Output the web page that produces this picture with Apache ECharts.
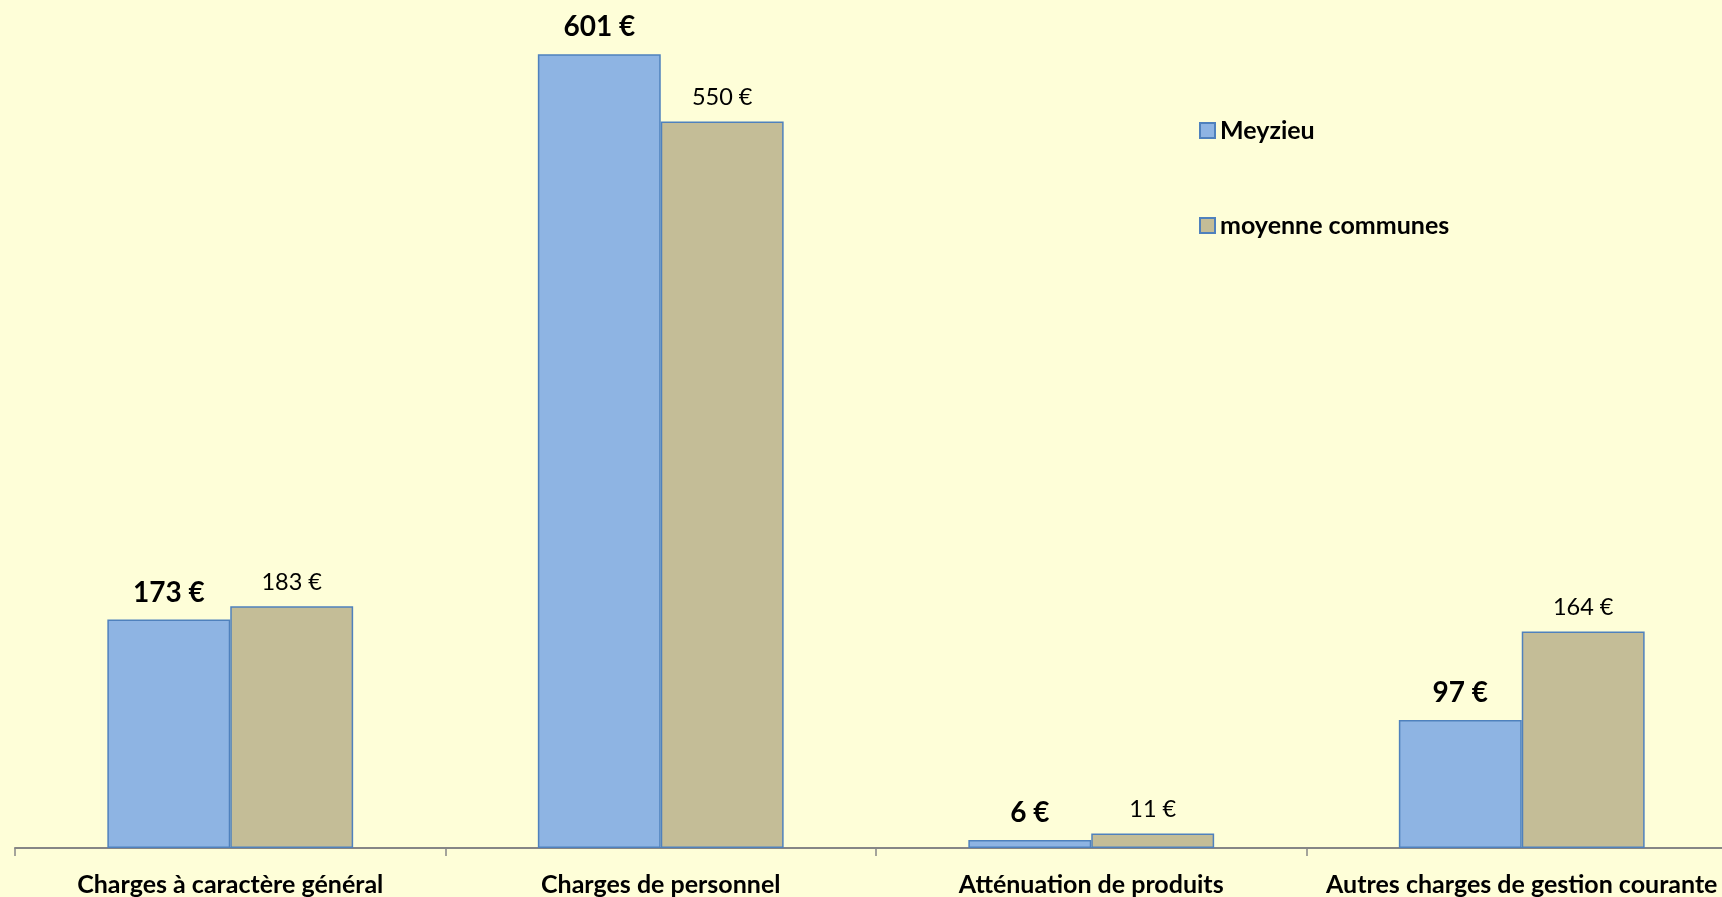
<!DOCTYPE html>
<html>
<head>
<meta charset="utf-8">
<script src="https://cdn.jsdelivr.net/npm/echarts@6/dist/echarts.min.js"></script>
<style>
html,body{margin:0;padding:0;background:#FEFED8;overflow:hidden;width:1722px;height:897px;}
#c{width:1740px;height:897px;}
</style>
</head>
<body>
<div id="c"></div>
<script>
var categories = ['Charges à caractère général', 'Charges de personnel', 'Atténuation de produits', 'Autres charges de gestion courante'];
var meyzieu = [173, 601, 6, 97];
var moyenne = [183, 550, 11, 164];
var seriesNames = ['Meyzieu', 'moyenne communes'];

var font = 'Lato, "Open Sans", sans-serif';
var chart = echarts.init(document.getElementById('c'));
chart.setOption({
  backgroundColor: '#FEFED8',
  animation: false,
  legend: {
    orient: 'vertical',
    left: 1194,
    top: 113,
    itemGap: 70,
    itemWidth: 15,
    itemHeight: 15,
    icon: 'rect',
    textStyle: {fontFamily: font, fontWeight: 'bold', fontSize: 25, color: '#000'},
    data: seriesNames
  },
  grid: {left: 15, right: 3, top: 0, bottom: 49},
  xAxis: {
    type: 'category',
    data: categories,
    axisLine: {lineStyle: {color: '#868686', width: 2}},
    axisTick: {show: true, length: 8, lineStyle: {color: '#868686', width: 1.5}},
    axisLabel: {interval: 0, margin: 24, fontFamily: font, fontWeight: 'bold', fontSize: 25, color: '#000'}
  },
  yAxis: {type: 'value', min: 0, max: 642, show: false, splitLine: {show: false}},
  series: [
    {
      name: seriesNames[0], type: 'bar', data: meyzieu,
      barGap: '0%', barCategoryGap: '42.9%',
      itemStyle: {color: '#8EB4E3', borderColor: '#4F81BD', borderWidth: 1.5},
      label: {show: true, position: 'top', distance: 13, formatter: '{c} €', fontFamily: font, fontWeight: 'bold', fontSize: 28, color: '#000'}
    },
    {
      name: seriesNames[1], type: 'bar', data: moyenne,
      barGap: '0%', barCategoryGap: '42.9%',
      itemStyle: {color: '#C4BD97', borderColor: '#4F81BD', borderWidth: 1.5},
      label: {show: true, position: 'top', distance: 12, formatter: '{c} €', fontFamily: font, fontSize: 23.5, color: '#000'}
    }
  ]
});
</script>
</body>
</html>
